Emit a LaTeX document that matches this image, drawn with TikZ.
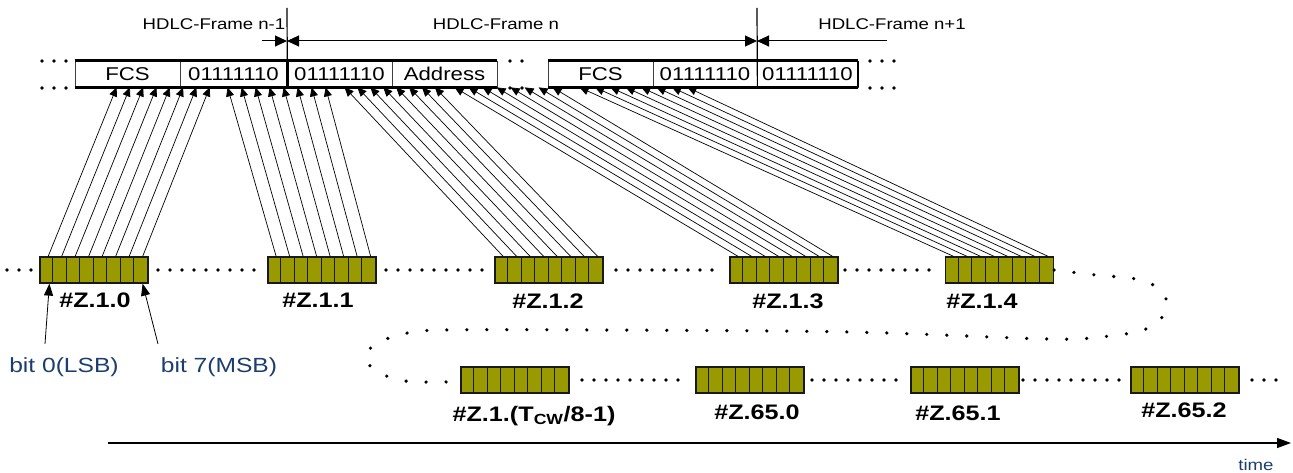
\documentclass[tikz,border=0pt]{standalone}
\usepackage{fontspec}
\setmainfont{Liberation Sans}[FakeStretch=1.2]
\usepackage{tikz}
\usetikzlibrary{arrows.meta,positioning,calc}

\definecolor{byteolive}{RGB}{153,153,0}
\definecolor{bitblue}{RGB}{28,62,110}

\tikzset{
  field/.style={draw=black!75, line width=0.8pt, minimum height=26pt, inner sep=0pt,
    font=\fontsize{18.5}{20}\selectfont},
  byte/.style={draw=black!90, fill=byteolive, line width=1.2pt, minimum width=108pt,
    minimum height=26pt, inner sep=0pt},
  bytelbl/.style={anchor=base, inner sep=1pt, font=\fontsize{21}{23}\selectfont\bfseries},
  hdlc/.style={inner sep=1pt, font=\fontsize{15.5}{17}\selectfont},
  bitlbl/.style={anchor=base, inner sep=1pt, text=bitblue, font=\fontsize{20.5}{22}\selectfont},
  heavy/.style={line width=2.6pt},
  bitarrow/.style={-{Triangle[length=9pt,width=8pt]}, line width=0.7pt},
  dimarrow/.style={line width=1pt},
  ptr/.style={-{Triangle[length=12pt,width=9pt]}, line width=0.8pt},
  dotrow/.style={line width=3.6pt, line cap=round, dash pattern=on 0pt off 12pt},
  dotcurve/.style={line width=3.6pt, line cap=round, dash pattern=on 0pt off 20pt}
}

\begin{document}
\begin{tikzpicture}[x=1pt, y=-1pt]
    \useasboundingbox (0,0) rectangle (1293,473);

    % Frame labels
    \node[hdlc] (fprev) at (214,24) {HDLC-Frame n-1};
    \node[hdlc] (fcur) at (496,24) {HDLC-Frame n};
    \node[hdlc] (fnext) at (892,24) {HDLC-Frame n+1};

    % Bit stream fields
    \node[field, minimum width=105pt] (fcsA) at (127.5,74) {FCS};
    \node[field, minimum width=107pt] (flagA) at (233.5,74) {01111110};
    \node[field, minimum width=105pt] (flagB) at (339.5,74) {01111110};
    \node[field, minimum width=105pt] (addr) at (444.5,74) {Address};
    \node[field, minimum width=105pt] (fcsB) at (600.5,74) {FCS};
    \node[field, minimum width=104pt] (flagC) at (705,74) {01111110};
    \node[field, minimum width=101pt] (flagD) at (807.5,74) {01111110};

    \draw[heavy] (fcsA.north west) -- (addr.north east);
    \draw[heavy] (fcsA.south west) -- (addr.south east);
    \draw[heavy] (fcsB.north west) -- (flagD.north east);
    \draw[heavy] (fcsB.south west) -- (flagD.south east);
    \draw[line width=2pt] (flagD.north east) -- (flagD.south east);
    \draw[heavy] (flagA.north east) -- (flagA.south east);

    % Dots in the bit stream
    \foreach \y in {61,88} {
        \draw[dotrow] (42,\y) -- (66,\y);
        \draw[dotrow] (510,\y) -- (534,\y);
        \draw[dotrow] (870,\y) -- (894,\y);
    }

    % Frame borders
    \coordinate (sepA) at (287,8);
    \coordinate (sepB) at (757,8);
    \coordinate (dimL) at (262,41);
    \coordinate (dimR) at (887,41);
    \draw[line width=1.2pt] (sepA) -- (flagA.south east);
    \draw[line width=1.2pt] (sepB) -- (flagC.south east);
    \draw[dimarrow, -{Triangle[length=12pt,width=11pt]}] (dimL) -- (dimL -| sepA);
    \draw[dimarrow, {Triangle[length=12pt,width=11pt]}-{Triangle[length=12pt,width=11pt]}] (dimL -| sepA) -- (dimL -| sepB);
    \draw[dimarrow, {Triangle[length=12pt,width=11pt]}-] (dimL -| sepB) -- (dimR);

    % Dotted time line of the bytes
    \draw[dotrow] (7,270) -- (34,270);
    \draw[dotrow] (158,270) -- (258,270);
    \draw[dotrow] (386,270) -- (486,270);
    \draw[dotrow] (616,270) -- (716,270);
    \draw[dotrow] (845,270) -- (940,270);
    \draw[dotrow] (582,380) -- (686,380);
    \draw[dotrow] (812,380) -- (904,380);
    \draw[dotrow] (1023,380) -- (1125,380);
    \draw[dotrow] (1252,380) -- (1276,380);

    % Bytes
    \node[byte] (b0) at (94,270) {};
    \node[byte] (b1) at (322,270) {};
    \node[byte] (b2) at (549,270) {};
    \node[byte] (b3) at (784,270) {};
    \node[byte] (b4) at (999.5,270) {};
    \node[byte] (c0) at (515,380) {};
    \node[byte] (c1) at (750,380) {};
    \node[byte] (c2) at (965,380) {};
    \node[byte] (c3) at (1185,380) {};

    \foreach \b in {b0,b1,b2,b3,b4,c0,c1,c2,c3}
        \foreach \k in {1,...,7}
            \draw[line width=1pt, black!90] ([xshift=\k*13.5pt]\b.north west) -- ([xshift=\k*13.5pt]\b.south west);

    \draw[dotcurve] plot[smooth, tension=0.55] coordinates {(b4.east) (1096,275) (1136,279) (1158,288)
        (1167,303) (1160,320) (1140,331) (1100,337) (1047,339) (850,332) (600,330) (443,330)
        (403,334) (374,345) (366,360) (380,373) (405,381) (445,382) (c0.west)};

    % Byte labels
    \node[bytelbl] (l0) at (95,307) {\#Z.1.0};
    \node[bytelbl] (l1) at (318,307) {\#Z.1.1};
    \node[bytelbl] (l2) at (548,308) {\#Z.1.2};
    \node[bytelbl] (l3) at (788,308) {\#Z.1.3};
    \node[bytelbl] (l4) at (982,308) {\#Z.1.4};
    \node[bytelbl] (m0) at (534,421) {\#Z.1.(T\textsubscript{CW}/8-1)};
    \node[bytelbl] (m1) at (757,419) {\#Z.65.0};
    \node[bytelbl] (m2) at (958,420) {\#Z.65.1};
    \node[bytelbl] (m3) at (1184,417) {\#Z.65.2};

    % Bits into the stream
    \foreach \b/\tip/\stp in {b0/42/13.3, b1/153/14, b2/270/12.9, b3/380/14, b4/505/15.4}
        \foreach \k in {0,...,7}
            \draw[bitarrow] ([xshift={(\k+0.5)*13.5+2}]\b.north west) -- ([xshift={\tip+\k*\stp}]fcsA.south west);

    % Bit order
    \node[bitlbl] (bitlo) at (64,372) {bit 0(LSB)};
    \node[bitlbl] (bithi) at (219,372) {bit 7(MSB)};
    \draw[ptr] ([xshift=-19pt,yshift=12pt]bitlo.north) -- ([xshift=10pt]b0.south west);
    \draw[ptr] ([xshift=-61pt,yshift=12pt]bithi.north) -- ([xshift=-6pt]b0.south east);

    % Time axis
    \coordinate (t0) at (108,443);
    \coordinate (t1) at (1291,443);
    \draw[line width=1.2pt, -{Triangle[length=14pt,width=10pt]}] (t0) -- (t1);
    \node[anchor=base, inner sep=1pt, text=bitblue, font=\fontsize{15.5}{17}\selectfont] (tlbl) at (1256,470) {time};
\end{tikzpicture}
\end{document}
